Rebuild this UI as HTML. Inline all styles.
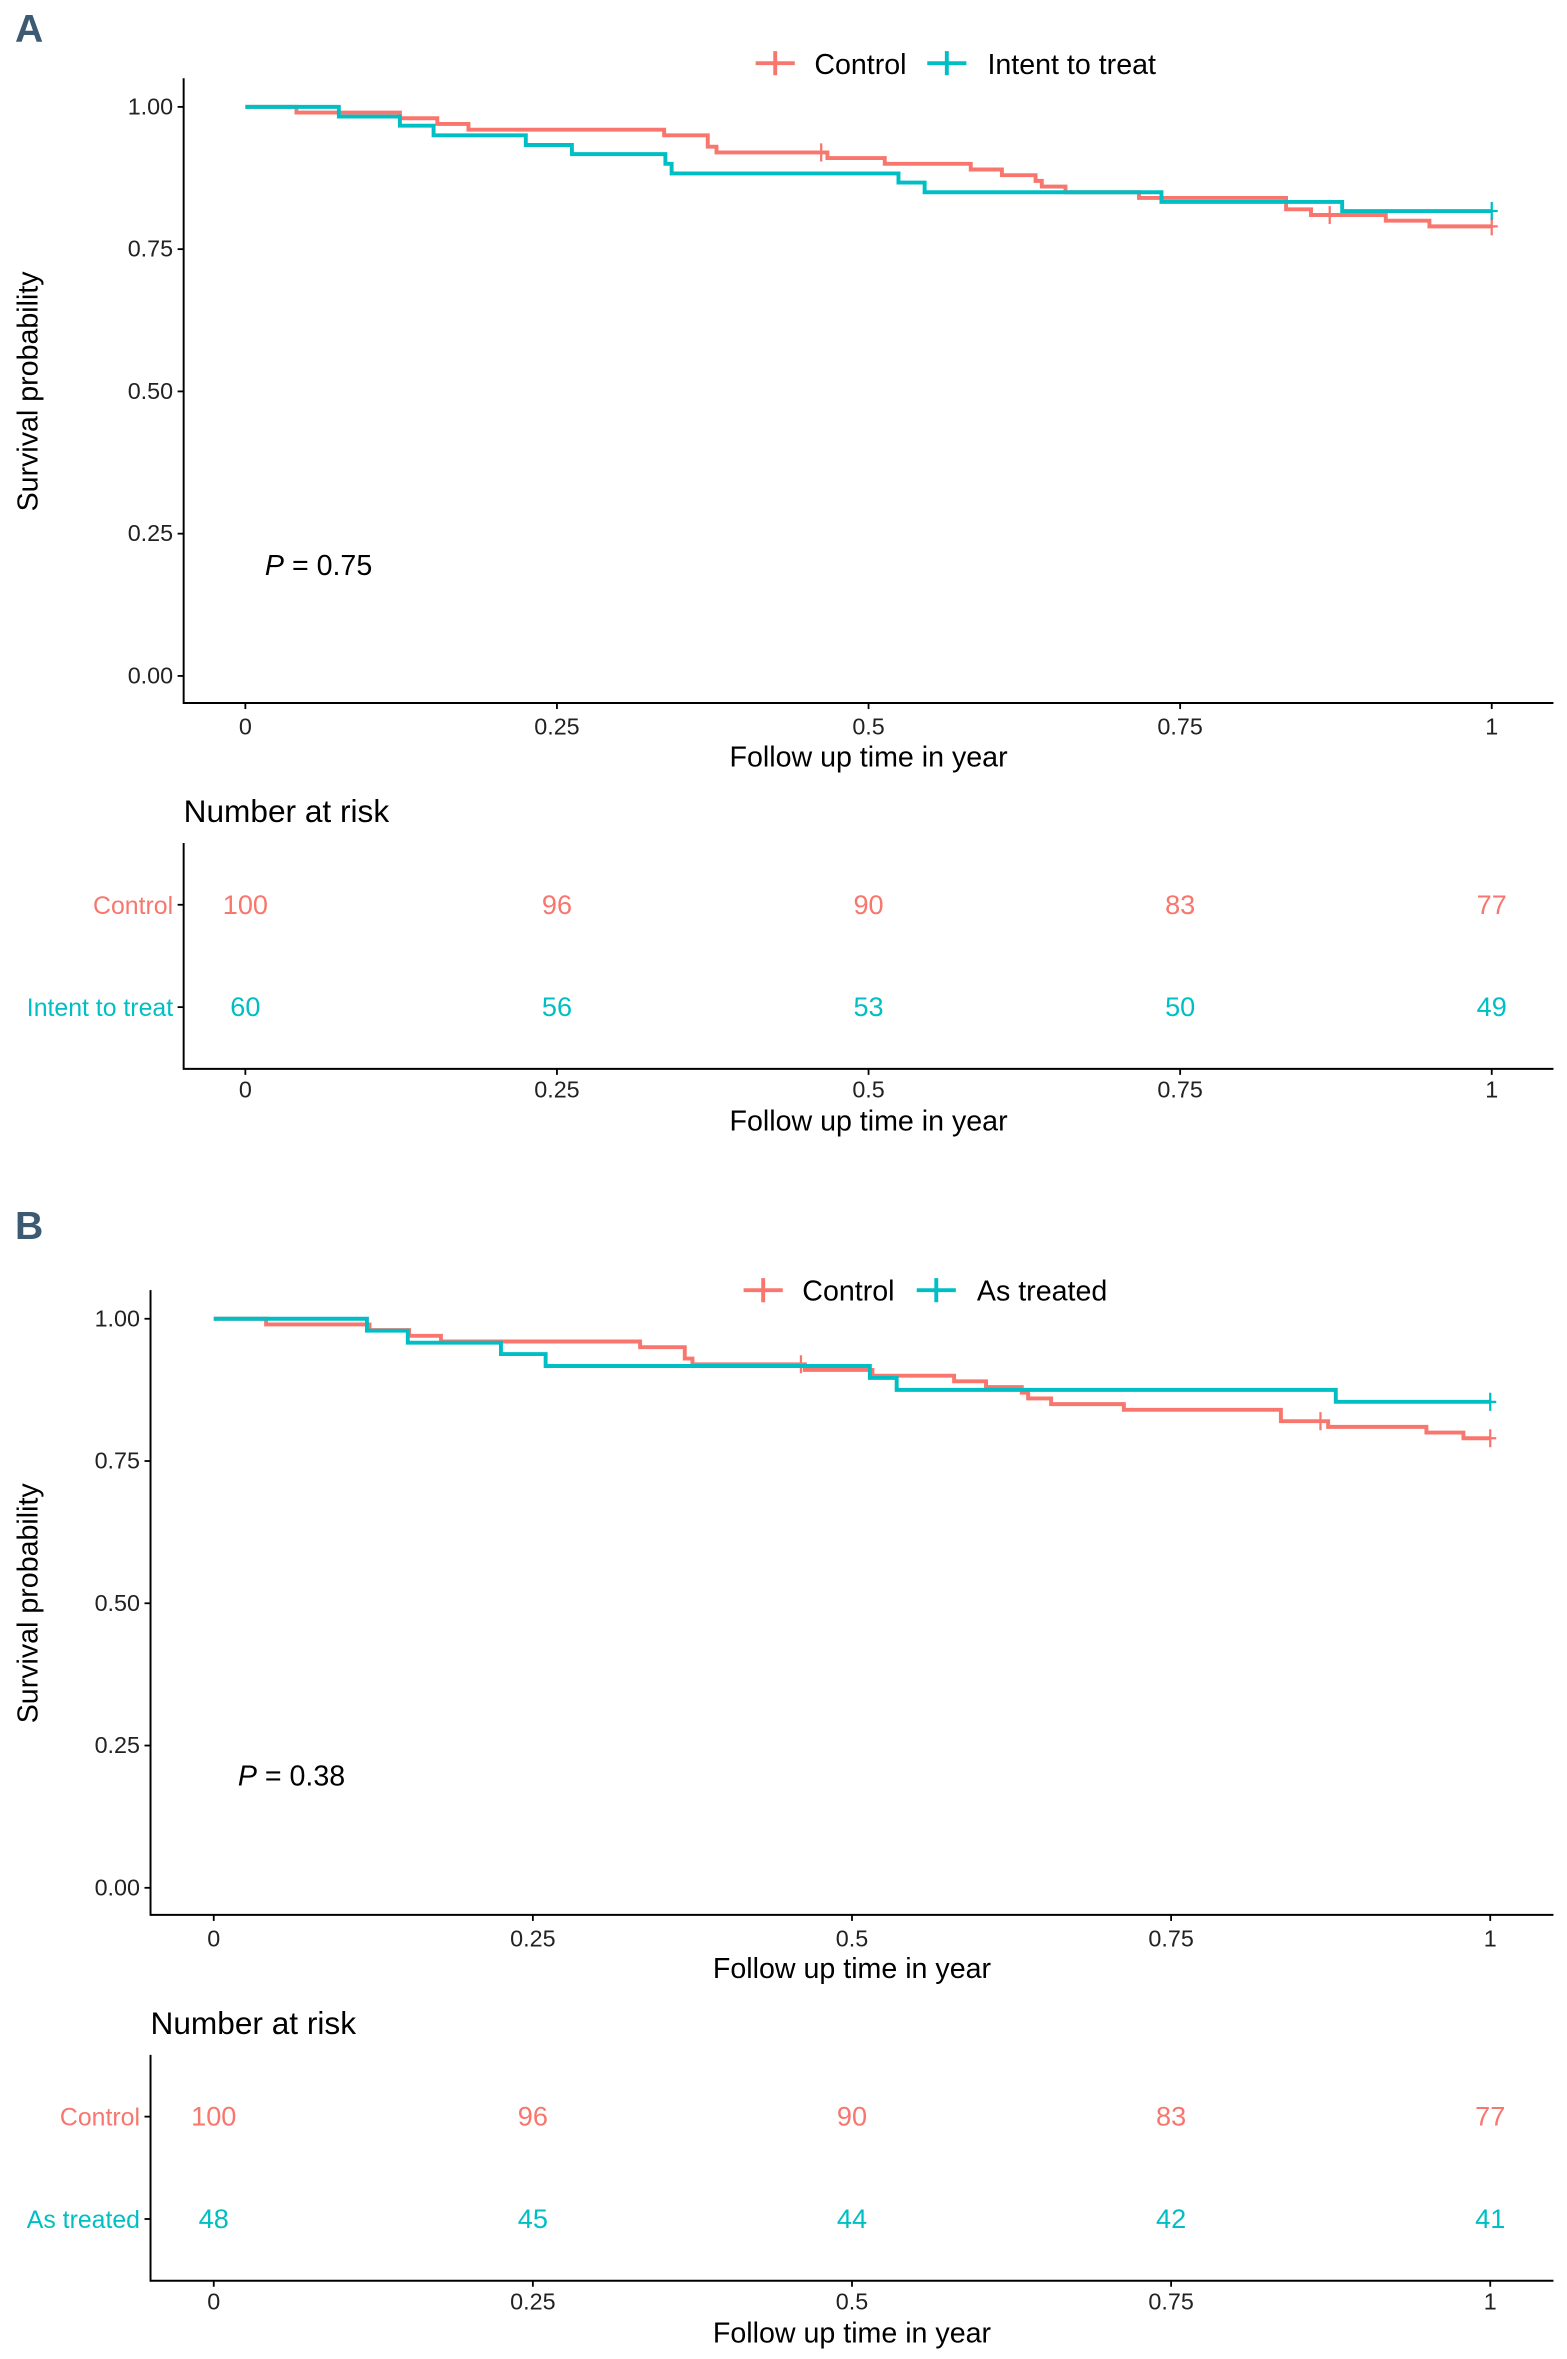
<!DOCTYPE html>
<html><head><meta charset="utf-8"><style>
html,body{margin:0;padding:0;background:#fff;}
svg{display:block;font-family:"Liberation Sans",sans-serif;}
</style></head><body>
<svg id="fig" width="1567" height="2359" viewBox="0 0 1041 1567" preserveAspectRatio="none" xmlns="http://www.w3.org/2000/svg"></svg>
<script>
// ---- data ----
const timeTicks = [0, 0.25, 0.5, 0.75, 1];
const timeTickLabels = ["0", "0.25", "0.5", "0.75", "1"];
const survTicks = [0, 0.25, 0.5, 0.75, 1];
const survTickLabels = ["0.00", "0.25", "0.50", "0.75", "1.00"];

// Panel A
const ctrlA_t = [0, 0.041, 0.124, 0.154, 0.179, 0.336, 0.371, 0.378, 0.467, 0.513, 0.582, 0.607, 0.634, 0.639, 0.658, 0.717, 0.835, 0.855, 0.915, 0.95];
const ctrlA_s = [1.0, 0.99, 0.98, 0.97, 0.96, 0.95, 0.93, 0.92, 0.91, 0.90, 0.89, 0.88, 0.87, 0.86, 0.85, 0.84, 0.82, 0.81, 0.80, 0.79];
const ctrlA_cens = [0.462, 0.87, 1.0];
const ittA_t = [0, 0.075, 0.124, 0.151, 0.225, 0.262, 0.337, 0.342, 0.524, 0.545, 0.735, 0.88];
const ittA_s = [1.0, 0.983, 0.967, 0.95, 0.933, 0.917, 0.90, 0.883, 0.867, 0.85, 0.833, 0.817];
const ittA_cens = [1.0];
const riskA_ctrl = [100, 96, 90, 83, 77];
const riskA_itt = [60, 56, 53, 50, 49];

// Panel B
const ctrlB_t = [0, 0.041, 0.122, 0.153, 0.178, 0.334, 0.369, 0.375, 0.463, 0.516, 0.58, 0.605, 0.633, 0.638, 0.656, 0.713, 0.836, 0.873, 0.95, 0.979];
const ctrlB_s = [1.0, 0.99, 0.98, 0.97, 0.96, 0.95, 0.93, 0.92, 0.91, 0.90, 0.89, 0.88, 0.87, 0.86, 0.85, 0.84, 0.82, 0.81, 0.80, 0.79];
const ctrlB_cens = [0.46, 0.867, 1.0];
const atB_t = [0, 0.12, 0.152, 0.225, 0.26, 0.514, 0.535, 0.879];
const atB_s = [1.0, 0.979, 0.958, 0.938, 0.917, 0.896, 0.875, 0.854];
const atB_cens = [1.0];
const riskB_ctrl = [100, 96, 90, 83, 77];
const riskB_at = [48, 45, 44, 42, 41];

const RED = "#F8766D", TEAL = "#00BFC4";
const svg = document.getElementById('fig');
const NS = "http://www.w3.org/2000/svg";
function mk(tag, attrs, parent){ const e=document.createElementNS(NS,tag); for(const k in attrs) e.setAttribute(k,attrs[k]); (parent||svg).appendChild(e); return e; }
function txt(x,y,s,attrs,parent){ const e=mk('text',Object.assign({x:x,y:y},attrs),parent); e.textContent=s; return e; }

function panel(cfg){
  const g = mk('g',{});
  
  
  const X = t => cfg.x0 + t*(cfg.x1-cfg.x0);
  const Y = s => cfg.y0 + (1-s)*(cfg.y1-cfg.y0);
  const L = txt(10, cfg.letterY, cfg.letter, {'font-size':26,'font-weight':'bold','fill':'#3d5a73','font-family':'"Liberation Sans Narrow","Liberation Sans",sans-serif'}, g);
  
  
  const ax = mk('path',{d:`M${cfg.axL},${cfg.axTop} V${cfg.axB} H1032`,stroke:'#000','stroke-width':1.3,fill:'none'},g);
  
  
  survTicks.forEach((v,i)=>{
    mk('line',{x1:cfg.axL-4,x2:cfg.axL,y1:Y(v),y2:Y(v),stroke:'#000','stroke-width':1.2},g);
    const t=txt(cfg.axL-7,Y(v)+5,survTickLabels[i],{'font-size':15.5,'text-anchor':'end',fill:'#222'},g);
    
    
  });
  timeTicks.forEach((v,i)=>{
    mk('line',{x1:X(v),x2:X(v),y1:cfg.axB,y2:cfg.axB+4,stroke:'#000','stroke-width':1.2},g);
    const t=txt(X(v),cfg.axB+21,timeTickLabels[i],{'font-size':15.5,'text-anchor':'middle',fill:'#222'},g);
    
    
  });
  const xt=txt((cfg.axL+1032)/2, cfg.axB+42, 'Follow up time in year', {'font-size':19,'text-anchor':'middle'},g);
  
  
  const yt=txt(0,0,'Survival probability',{'font-size':19,'text-anchor':'middle',transform:`translate(25,${(cfg.y0+cfg.y1)/2}) rotate(-90)`},g);
  
  
  function curve(ts, ss, cens, color, name){
    let d = `M${X(ts[0])},${Y(ss[0])}`;
    for(let i=1;i<ts.length;i++){ d += ` H${X(ts[i])} V${Y(ss[i])}`; }
    d += ` H${X(1)}`;
    const p = mk('path',{d:d,stroke:color,'stroke-width':2.6,fill:'none'},g);
    
    
    cens.forEach(c=>{
      let s = ss[0];
      for(let i=0;i<ts.length;i++){ if(ts[i]<=c) s=ss[i]; }
      const m = mk('path',{d:`M${X(c)-4},${Y(s)} H${X(c)+4} M${X(c)},${Y(s)-6} V${Y(s)+6}`,stroke:color,'stroke-width':1.5,fill:'none'},g);
      
      
    });
  }
  curve(cfg.c1t, cfg.c1s, cfg.c1c, RED, 'control');
  curve(cfg.c2t, cfg.c2s, cfg.c2c, TEAL, cfg.name2id);
  const lg = mk('g',{},g);
  
  
  mk('path',{d:`M${cfg.legX},${cfg.legY} h26 M${cfg.legX+13},${cfg.legY-8} v16`,stroke:RED,'stroke-width':2.6},lg);
  txt(cfg.legX+39,cfg.legY+7,'Control',{'font-size':19},lg);
  mk('path',{d:`M${cfg.legX2},${cfg.legY} h26 M${cfg.legX2+13},${cfg.legY-8} v16`,stroke:TEAL,'stroke-width':2.6},lg);
  txt(cfg.legX2+40,cfg.legY+7,cfg.name2,{'font-size':19},lg);
  const pv = txt(cfg.pX, cfg.pY, '', {'font-size':19},g);
  
  
  const ts1=document.createElementNS(NS,'tspan'); ts1.setAttribute('font-style','italic'); ts1.textContent='P'; pv.appendChild(ts1);
  const ts2=document.createElementNS(NS,'tspan'); ts2.textContent=' = '+cfg.p; pv.appendChild(ts2);
  const rt = txt(cfg.axL, cfg.rTitleY, 'Number at risk', {'font-size':21},g);
  
  
  mk('path',{d:`M${cfg.axL},${cfg.rTop} V${cfg.rB} H1032`,stroke:'#000','stroke-width':1.3,fill:'none'},g);
  [[cfg.r1,'Control',RED,cfg.r1y],[cfg.r2,cfg.name2,TEAL,cfg.r2y]].forEach(([arr,lab,col,yy])=>{
    mk('line',{x1:cfg.axL-4,x2:cfg.axL,y1:yy,y2:yy,stroke:'#000','stroke-width':1.2},g);
    const l=txt(cfg.axL-7,yy+6,lab,{'font-size':16.5,'text-anchor':'end',fill:col},g);
    
    
    arr.forEach((n,i)=>{
      const t=txt(X(timeTicks[i]),yy+6,String(n),{'font-size':18,'text-anchor':'middle',fill:col},g);
      
      
    });
  });
  timeTicks.forEach((v,i)=>{
    mk('line',{x1:X(v),x2:X(v),y1:cfg.rB,y2:cfg.rB+4,stroke:'#000','stroke-width':1.2},g);
    txt(X(v),cfg.rB+19,timeTickLabels[i],{'font-size':15.5,'text-anchor':'middle',fill:'#222'},g);
  });
  const rx=txt((cfg.axL+1032)/2, cfg.rB+41, 'Follow up time in year', {'font-size':19,'text-anchor':'middle'},g);
  
  
}

panel({id:'a',letter:'A',letterY:28,x0:163,x1:991,y0:71,y1:449,axL:122,axTop:52,axB:467,
  c1t:ctrlA_t,c1s:ctrlA_s,c1c:ctrlA_cens,c2t:ittA_t,c2s:ittA_s,c2c:ittA_cens,name2:'Intent to treat',name2id:'intent-to-treat',
  legX:502,legX2:616,legY:42,pX:176,pY:382,p:'0.75',
  rTitleY:546,rTop:560,rB:710,r1:riskA_ctrl,r2:riskA_itt,r1y:601,r2y:669});
panel({id:'b',letter:'B',letterY:823,x0:142,x1:990,y0:876,y1:1254,axL:100,axTop:857,axB:1272,
  c1t:ctrlB_t,c1s:ctrlB_s,c1c:ctrlB_cens,c2t:atB_t,c2s:atB_s,c2c:atB_cens,name2:'As treated',name2id:'as-treated',
  legX:494,legX2:609,legY:857,pX:158,pY:1186,p:'0.38',
  rTitleY:1351,rTop:1365,rB:1515,r1:riskB_ctrl,r2:riskB_at,r1y:1406,r2y:1474});
</script>
</body></html>
